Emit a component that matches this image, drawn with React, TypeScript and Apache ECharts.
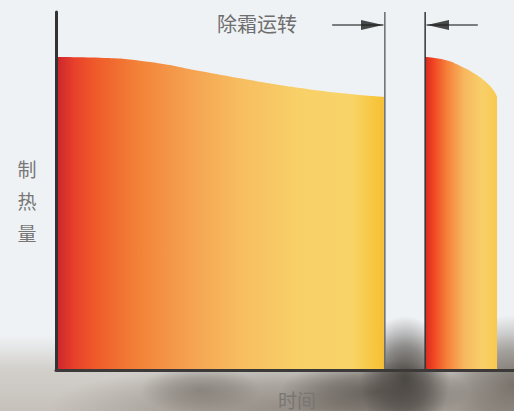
import React, { useEffect, useRef } from "react";
import * as echarts from "echarts";

// time (abstract units 0..100) and heating capacity (0..100)
const timeBefore = [0, 9.6, 20.5, 31.4, 42.4, 53.3, 64.2, 71.6];
const heatBefore = [87.4, 87.2, 86.0, 83.5, 81.0, 78.8, 77.1, 76.3];
const timeAfter = [80.6, 85.0, 88.2, 91.5, 94.1, 95.6, 96.3];
const heatAfter = [87.4, 86.6, 85.0, 82.7, 80.2, 78.0, 76.3];
const defrostStart = 71.8;
const defrostEnd = 80.6;
const arrowLevel = 96.4;
const arrowLeftTail = 60.3;
const arrowRightTail = 92.1;
const arrowLeftHead = 69.0;
const arrowRightHead = 83.4;

const titleText = "除霜运转";
const yName = "制热量";
const xName = "时间";

const FONT = "'Noto Sans CJK SC', 'Noto Sans', sans-serif";

const grad = (stops: [number, string][]) =>
  new echarts.graphic.LinearGradient(
    0,
    0,
    1,
    0,
    stops.map(([offset, color]) => ({ offset, color }))
  );

const radial = (c: string, a: number) => ({
  type: "radial",
  x: 0.5,
  y: 0.5,
  r: 0.5,
  colorStops: [
    { offset: 0, color: `rgba(${c},${a})` },
    { offset: 0.5, color: `rgba(${c},${a * 0.6})` },
    { offset: 1, color: `rgba(${c},0)` },
  ],
});

const blob = (cx: number, cy: number, rx: number, ry: number, c: string, a: number, z = -8) => ({
  type: "ellipse",
  z,
  silent: true,
  shape: { cx, cy, rx, ry },
  style: { fill: radial(c, a) },
});

export default function App() {
  const ref = useRef<HTMLDivElement>(null);
  useEffect(() => {
    if (!ref.current) return;
    const chart = echarts.init(ref.current, null, { renderer: "svg" });
    const hidden = {
      axisTick: { show: false },
      axisLabel: { show: false },
      splitLine: { show: false },
    };
    chart.setOption({
      animation: false,
      backgroundColor: "#eff2f5",
      grid: { left: 56, right: 0, top: 12, bottom: 41 },
      xAxis: {
        type: "value",
        min: 0,
        max: 100,
        ...hidden,
        axisLine: { show: true, lineStyle: { color: "#3c3a38", width: 3 } },
        z: 5,
      },
      yAxis: {
        type: "value",
        min: 0,
        max: 100,
        ...hidden,
        axisLine: { show: true, lineStyle: { color: "#333333", width: 3 } },
        z: 5,
      },
      graphic: [
        {
          type: "rect",
          z: -10,
          silent: true,
          shape: { x: 0, y: 335, width: 514, height: 76 },
          style: {
            fill: new echarts.graphic.LinearGradient(0, 0, 0, 1, [
              { offset: 0, color: "rgba(205,201,196,0)" },
              { offset: 0.45, color: "rgba(203,199,193,0.8)" },
              { offset: 1, color: "rgba(198,193,186,1)" },
            ]),
          },
        },
        blob(310, 408, 260, 48, "128,121,113", 0.75, -9),
        blob(200, 390, 60, 24, "110,104,96", 0.55),
        blob(375, 392, 95, 32, "88,82,76", 0.8),
        blob(405, 378, 45, 62, "72,68,64", 0.95),
        blob(514, 385, 80, 70, "112,105,98", 0.9),
        {
          type: "text",
          z: 10,
          style: {
            text: titleText,
            x: 257,
            y: 23,
            align: "center",
            verticalAlign: "middle",
            font: `20px ${FONT}`,
            fill: "#6e6e6e",
          },
        },
        {
          type: "text",
          z: 10,
          style: {
            text: yName.split("").join("\n"),
            x: 27,
            y: 200,
            align: "center",
            verticalAlign: "middle",
            lineHeight: 32,
            font: `19px ${FONT}`,
            fill: "#777777",
          },
        },
        {
          type: "text",
          z: 10,
          style: {
            text: xName,
            x: 297,
            y: 399,
            align: "center",
            verticalAlign: "middle",
            font: `19px ${FONT}`,
            fill: "#7a7674",
          },
        },
      ],
      series: [
        {
          type: "line",
          data: timeBefore.map((t, i) => [t, heatBefore[i]]),
          smooth: 0.5,
          showSymbol: false,
          lineStyle: { width: 0 },
          areaStyle: {
            opacity: 1,
            color: grad([
              [0, "#c9242e"],
              [0.055, "#e8402a"],
              [0.12, "#ef5a2a"],
              [0.25, "#f28238"],
              [0.4, "#f5a050"],
              [0.56, "#f7bd60"],
              [0.74, "#f8d068"],
              [0.9, "#f8d468"],
              [0.97, "#f8c640"],
              [1, "#f5bf32"],
            ]),
          },
          z: 2,
        },
        {
          type: "line",
          data: timeAfter.map((t, i) => [t, heatAfter[i]]),
          smooth: 0.5,
          showSymbol: false,
          lineStyle: { width: 0 },
          areaStyle: {
            opacity: 1,
            color: grad([
              [0, "#d42a22"],
              [0.1, "#f04020"],
              [0.3, "#f5803a"],
              [0.55, "#f7b860"],
              [0.8, "#f8d068"],
              [1, "#f8c850"],
            ]),
          },
          z: 2,
        },
        {
          type: "line",
          data: [
            [defrostStart, 0],
            [defrostStart, 100],
          ],
          showSymbol: false,
          lineStyle: { color: "#6a6a6a", width: 1.5 },
          z: 4,
        },
        {
          type: "line",
          data: [
            [defrostEnd, 0],
            [defrostEnd, 100],
          ],
          showSymbol: false,
          lineStyle: { color: "#333333", width: 1.5 },
          z: 4,
        },
        {
          type: "line",
          data: [
            [arrowLeftTail, arrowLevel],
            [defrostStart - 0.3, arrowLevel],
          ],
          showSymbol: false,
          lineStyle: { color: "#555555", width: 1.5 },
          z: 4,
        },
        {
          type: "line",
          data: [
            [arrowRightTail, arrowLevel],
            [defrostEnd + 0.3, arrowLevel],
          ],
          showSymbol: false,
          lineStyle: { color: "#555555", width: 1.5 },
          z: 4,
        },
        {
          type: "scatter",
          data: [[arrowLeftHead, arrowLevel]],
          symbol: "triangle",
          symbolSize: [10, 22],
          symbolRotate: -90,
          itemStyle: { color: "#1e1e1e" },
          z: 5,
        },
        {
          type: "scatter",
          data: [[arrowRightHead, arrowLevel]],
          symbol: "triangle",
          symbolSize: [10, 22],
          symbolRotate: 90,
          itemStyle: { color: "#1e1e1e" },
          z: 5,
        },
      ],
    });
    return () => chart.dispose();
  }, []);
  return (
    <div
      ref={ref}
      style={{ position: "fixed", left: 0, top: 0, width: 514, height: 411 }}
    />
  );
}
